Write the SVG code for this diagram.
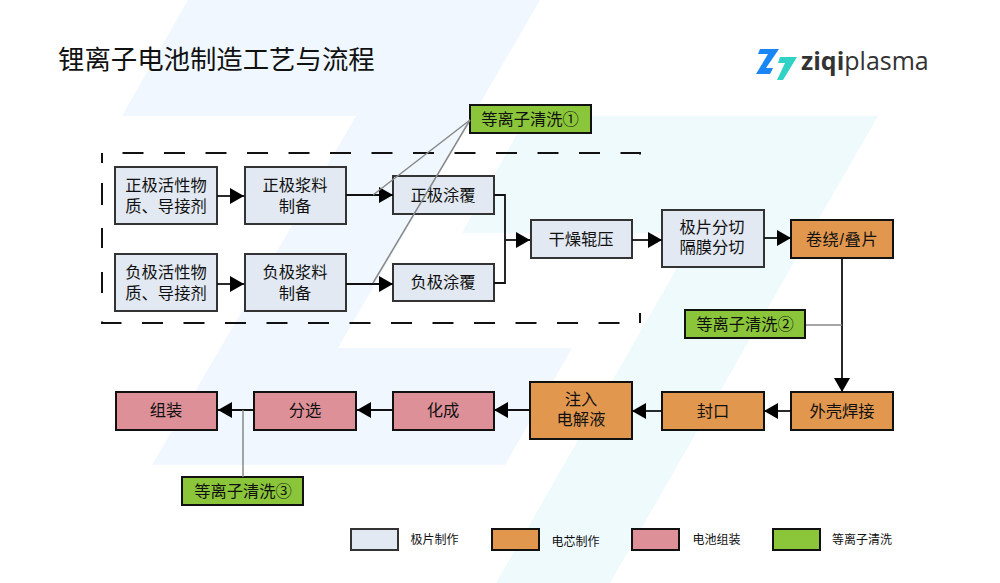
<svg xmlns="http://www.w3.org/2000/svg" width="1000" height="583" viewBox="0 0 1000 583">
<style>
text{font-family:"Liberation Sans","Noto Sans CJK SC",sans-serif;fill:#111;text-anchor:middle}
.t{font-size:16.3px}
.e{fill:#e2e9f2;stroke:#333;stroke-width:2}
.o{fill:#e2974f;stroke:#111;stroke-width:2}
.p{fill:#de9098;stroke:#111;stroke-width:2}
.g{fill:#8bc63a;stroke:#111;stroke-width:2}
.c{fill:none;stroke:#111;stroke-width:1.8}
.s{fill:none;stroke:#888;stroke-width:1.5}
.l{font-size:12px}
.d{fill:none;stroke:#111;stroke-width:2}
</style>
<defs>
<marker id="a" markerUnits="userSpaceOnUse" markerWidth="15" markerHeight="16" refX="14" refY="8" orient="auto"><path d="M0,0L14,8L0,16Z" fill="#000"/></marker>
</defs>
<rect width="1000" height="583" fill="#fff"/>
<g id="background">
<path fill="#f0f7fe" d="M188,0H540L338,348H572L505,465H152L356,116H122Z"/>
<path fill="#effafd" d="M527,116H878L610,583H496L697,233H462Z"/>
</g>
<text x="58" y="69" style="font-size:26.4px;text-anchor:start">锂离子电池制造工艺与流程</text>
<g id="logo">
<path d="M760,49H779L766,68H773L770,74H756L768,54H758Z" fill="#1a86f5"/>
<path d="M780,57H797L783,80H777L785,63H778Z" fill="#2fd2c4"/>
<text x="801" y="69.500" style="font-size:25px;font-family:'Open Sans','Liberation Sans',sans-serif;text-anchor:start;font-weight:700;fill:#333">ziqi<tspan style="font-weight:400">plasma</tspan></text>
</g>
<g id="frame">
<path class="d" d="M102,163V153H640V163" stroke-dasharray="21 20.5" stroke-dashoffset="11"/>
<path class="d" d="M640,313V323H102V313" stroke-dasharray="21 20.5" stroke-dashoffset="11"/>
<path class="d" d="M102,183V205M102,228V248M102,272V293"/>
</g>
<g id="n1"><rect class="e" x="115" y="167" width="102" height="57"/><text class="t"><tspan x="166" y="191">正极活性物</tspan><tspan x="166" y="212">质、导接剂</tspan></text></g>
<g id="n2"><rect class="e" x="245" y="167" width="101" height="57"/><text class="t"><tspan x="295" y="191">正极浆料</tspan><tspan x="295" y="212">制备</tspan></text></g>
<g id="n3"><rect class="e" x="115" y="254" width="102" height="57"/><text class="t"><tspan x="166" y="278">负极活性物</tspan><tspan x="166" y="299">质、导接剂</tspan></text></g>
<g id="n4"><rect class="e" x="245" y="254" width="101" height="57"/><text class="t"><tspan x="295" y="278">负极浆料</tspan><tspan x="295" y="299">制备</tspan></text></g>
<g id="n5"><rect class="e" x="393" y="176" width="101" height="38"/><text class="t" x="443" y="201">正极涂覆</text></g>
<g id="n6"><rect class="e" x="393" y="264" width="101" height="37"/><text class="t" x="443" y="288">负极涂覆</text></g>
<g id="n7"><rect class="e" x="531" y="220" width="101" height="38"/><text class="t" x="581" y="245">干燥辊压</text></g>
<g id="n8"><rect class="e" x="662" y="210" width="102" height="57"/><text class="t"><tspan x="712" y="232.500">极片分切</tspan><tspan x="712" y="253">隔膜分切</tspan></text></g>
<g id="n9"><rect class="o" x="791" y="220" width="102" height="38"/><text class="t" x="842" y="245" style="letter-spacing:.6px">卷绕/叠片</text></g>
<g id="n10"><rect class="o" x="791" y="392" width="102" height="38"/><text class="t" x="842" y="417">外壳焊接</text></g>
<g id="n11"><rect class="o" x="662" y="392" width="102" height="38"/><text class="t" x="713" y="417">封口</text></g>
<g id="n12"><rect class="o" x="530" y="382" width="102" height="57"/><text class="t"><tspan x="581" y="404.500">注入</tspan><tspan x="581" y="425">电解液</tspan></text></g>
<g id="n13"><rect class="p" x="393" y="392" width="101" height="38"/><text class="t" x="443" y="416">化成</text></g>
<g id="n14"><rect class="p" x="254" y="392" width="102" height="38"/><text class="t" x="305" y="416">分选</text></g>
<g id="n15"><rect class="p" x="116" y="392" width="101" height="38"/><text class="t" x="166" y="416">组装</text></g>
<g id="n16"><rect class="g" x="470" y="105" width="121" height="28"/><text class="t" x="530" y="125">等离子清洗①</text></g>
<g id="n17"><rect class="g" x="685" y="310" width="120" height="28"/><text class="t" x="745" y="330">等离子清洗②</text></g>
<g id="n18"><rect class="g" x="182" y="477" width="121" height="28"/><text class="t" x="243" y="497">等离子清洗③</text></g>
<g id="legend">
<rect class="e" x="351" y="529" width="47" height="21"/><text class="l" x="434.500" y="544">极片制作</text>
<rect class="o" x="492" y="529" width="47" height="21"/><text class="l" x="575.500" y="546">电芯制作</text>
<rect class="p" x="632" y="529" width="47" height="21"/><text class="l" x="716.500" y="544">电池组装</text>
<rect class="g" x="773" y="529" width="47" height="21"/><text class="l" x="862" y="544">等离子清洗</text>
</g>
<g id="connectors">
<path class="c" d="M217,196H244" marker-end="url(#a)"/>
<path class="c" d="M217,284H244" marker-end="url(#a)"/>
<path class="c" d="M346,195H393" marker-end="url(#a)"/>
<path class="c" d="M346,284H393" marker-end="url(#a)"/>
<path class="c" d="M494,195H505V283H494"/>
<path class="c" d="M505,240H530" marker-end="url(#a)"/>
<path class="c" d="M632,240H662" marker-end="url(#a)"/>
<path class="c" d="M764,238H791" marker-end="url(#a)"/>
<path class="c" d="M842,259V392" marker-end="url(#a)"/>
<path class="c" d="M791,411H764" marker-end="url(#a)"/>
<path class="c" d="M662,411H632" marker-end="url(#a)"/>
<path class="c" d="M530,410H494" marker-end="url(#a)"/>
<path class="c" d="M393,410H357" marker-end="url(#a)"/>
<path class="c" d="M254,410H218" marker-end="url(#a)"/>
<path class="s" d="M806,325H842"/>
<path class="s" d="M243,410V477"/>
<path class="s" d="M470,120L373,195"/>
<path class="s" d="M470,120L373,283"/>
</g>
</svg>
